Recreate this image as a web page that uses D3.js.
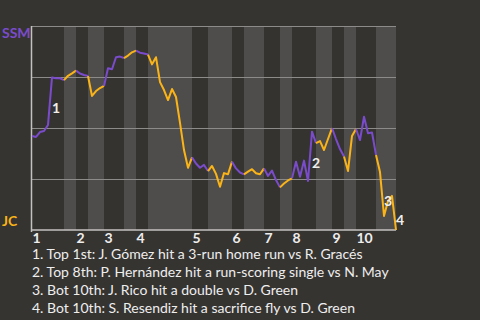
<!DOCTYPE html>
<html lang="en">
<head>
<meta charset="utf-8">
<script src="https://d3js.org/d3.v7.min.js"></script>
<style>
  body { margin: 0; background: #363431; }
  text { font-family: Lato, "Noto Sans", sans-serif; }
</style>
</head>
<body>
<script>
// innings and how many plays each half-inning has (top, bottom, top, bottom ...)
var innings = ["1", "2", "3", "4", "5", "6", "7", "8", "9", "10"];
var playsPerHalf = [8, 3, 3, 4, 5, 3, 3, 11, 4, 6, 3, 5, 4, 3, 6, 4, 3, 3, 5, 5];

// SSM win probability after each play (0 = JC wins, 1 = SSM wins)
var winProb = [
  0.461, 0.456, 0.480, 0.485, 0.515, 0.748, 0.744, 0.744, 0.735,   // top 1
  0.756, 0.768, 0.781,                                             // bot 1
  0.767, 0.760, 0.755,                                             // top 2
  0.657, 0.681, 0.696, 0.706,                                      // bot 2
  0.793, 0.788, 0.847, 0.850, 0.843,                               // top 3
  0.855, 0.871, 0.879,                                             // bot 3
  0.869, 0.865, 0.860,                                             // top 4
  0.812, 0.847, 0.725, 0.686, 0.637, 0.691, 0.652, 0.525, 0.392, 0.305, 0.356, // bot 4
  0.326, 0.305, 0.319, 0.289,                                      // top 5
  0.314, 0.275, 0.212, 0.279, 0.273, 0.335,                        // bot 5
  0.302, 0.282, 0.273,                                             // top 6
  0.286, 0.298, 0.278, 0.273, 0.302,                               // bot 6
  0.265, 0.291, 0.245, 0.209,                                      // top 7
  0.228, 0.243, 0.253,                                             // bot 7
  0.335, 0.261, 0.340, 0.240, 0.482, 0.426,                        // top 8
  0.436, 0.392, 0.446, 0.499,                                      // bot 8
  0.446, 0.397, 0.360,                                             // top 9
  0.289, 0.461, 0.495,                                             // bot 9
  0.441, 0.555, 0.474, 0.478, 0.368,                               // top 10
  0.284, 0.069, 0.142, 0.167, 0.000                                // bot 10
];

// key plays (index of the play in winProb) and their captions
var eventPlays = [5, 70, 88, 91];
var eventTexts = [
  "Top 1st: J. Gómez hit a 3-run home run vs R. Gracés",
  "Top 8th: P. Hernández hit a run-scoring single vs N. May",
  "Bot 10th: J. Rico hit a double vs D. Green",
  "Bot 10th: S. Resendiz hit a sacrifice fly vs D. Green"
];

var teams = ["SSM", "JC"];
var teamColours = ["#7a4ccb", "#fbb417"];

var width = 480, height = 320;
var margin = {top: 26, right: 84, bottom: 90, left: 32};

var svg = d3.select("body").append("svg")
  .attr("width", width)
  .attr("height", height);

svg.append("rect")
  .attr("width", width)
  .attr("height", height)
  .attr("fill", "#363431");

var nPlays = winProb.length - 1;
var x = d3.scaleLinear().domain([0, nPlays]).range([margin.left, width - margin.right]);
var y = d3.scaleLinear().domain([0, 1]).range([height - margin.bottom, margin.top]);

// start / end play of each half-inning
var halves = [];
var cum = 0;
playsPerHalf.forEach(function(n, i) {
  halves.push({start: cum, end: cum + n, top: i % 2 == 0, inning: innings[Math.floor(i / 2)]});
  cum += n;
});

// alternating bands
svg.append("g").selectAll("rect")
  .data(halves)
  .enter().append("rect")
  .attr("x", function(d) { return x(d.start); })
  .attr("width", function(d) { return x(d.end) - x(d.start); })
  .attr("y", y(1))
  .attr("height", y(0) - y(1))
  .attr("fill", function(d) { return d.top ? "#353330" : "#4f4d4b"; });

// grid lines
var yAxis = d3.axisLeft(y).tickValues([0.25, 0.5, 0.75, 1]).tickSize(-(x(nPlays) - x(0))).tickFormat("");
var gy = svg.append("g")
  .attr("transform", "translate(" + x(0) + ",0)")
  .call(yAxis);
gy.select(".domain").remove();
gy.selectAll("line").attr("stroke", "#8d8b89").attr("stroke-width", 1);

// axis lines
svg.append("line")
  .attr("x1", x(0) - 0.5).attr("x2", x(0) - 0.5)
  .attr("y1", y(1)).attr("y2", y(0) + 2)
  .attr("stroke", "#c4c2c0").attr("stroke-width", 1.5);
svg.append("line")
  .attr("x1", x(0) - 1).attr("x2", x(nPlays))
  .attr("y1", y(0)).attr("y2", y(0))
  .attr("stroke", "#c4c2c0").attr("stroke-width", 1.5);

// inning labels
var xAxis = d3.axisBottom(x)
  .tickValues(halves.filter(function(d) { return d.top; }).map(function(d) { return d.start; }))
  .tickSize(0)
  .tickFormat(function(d, i) { return innings[i]; });
var gx = svg.append("g")
  .attr("transform", "translate(0," + y(0) + ")")
  .call(xAxis);
gx.select(".domain").remove();
gx.selectAll("text")
  .attr("y", 13)
  .attr("dy", 0)
  .attr("text-anchor", "start")
  .attr("fill", "#eeeeee")
  .style("font-family", "Lato")
  .style("font-size", "14px")
  .style("font-weight", "bold");

// team labels
svg.append("text")
  .attr("x", 2).attr("y", y(1) + 12)
  .attr("fill", teamColours[0])
  .style("font-size", "14px").style("font-weight", "bold")
  .text(teams[0]);
svg.append("text")
  .attr("x", 2).attr("y", y(0) - 4)
  .attr("fill", teamColours[1])
  .style("font-size", "14px").style("font-weight", "bold")
  .text(teams[1]);

// win probability line, one path per half-inning
var line = d3.line()
  .x(function(d) { return x(d); })
  .y(function(d) { return y(winProb[d]); });

svg.append("g").selectAll("path")
  .data(halves)
  .enter().append("path")
  .attr("d", function(d) { return line(d3.range(d.start, d.end + 1)); })
  .attr("fill", "none")
  .attr("stroke", function(d) { return d.top ? teamColours[0] : teamColours[1]; })
  .attr("stroke-width", 2)
  .attr("stroke-linejoin", "round");

// event numbers next to the play
svg.append("g").selectAll("text")
  .data(eventPlays)
  .enter().append("text")
  .attr("x", function(d) { return (x(d - 1) + x(d)) / 2 + 2; })
  .attr("y", function(d) { return (y(winProb[d - 1]) + y(winProb[d])) / 2 + 12; })
  .attr("fill", "#eeeeee")
  .style("font-size", "14px")
  .style("font-weight", "bold")
  .text(function(d, i) { return i + 1; });

// captions
svg.append("g").selectAll("text")
  .data(eventTexts)
  .enter().append("text")
  .attr("x", 32)
  .attr("y", function(d, i) { return 259 + i * 18; })
  .attr("fill", "#eeeeee")
  .style("font-size", "14px")
  .text(function(d, i) { return (i + 1) + ". " + d; });
</script>
</body>
</html>
